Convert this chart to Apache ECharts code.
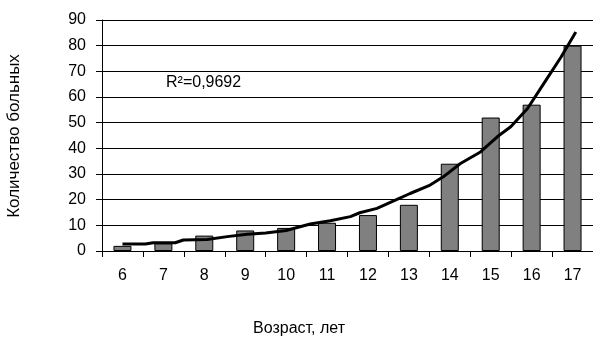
<!DOCTYPE html>
<html>
<head>
<meta charset="utf-8">
<script src="https://cdn.jsdelivr.net/npm/echarts@6/dist/echarts.min.js"></script>
<style>
html,body{margin:0;padding:0;background:#fff;}
#chart{width:593px;height:341px;}
</style>
</head>
<body>
<div id="chart"></div>
<script>
var categories = ['6','7','8','9','10','11','12','13','14','15','16','17'];
var patients = [2, 3, 6, 8, 9, 11, 14, 18, 34, 52, 57, 80];
var trendX = [6.0, 6.56, 6.75, 7.29, 7.49, 8.07, 8.56, 9.05, 9.5, 10.0, 10.59, 11.08, 11.57, 11.8, 12.22, 12.71, 13.03, 13.52, 13.84, 14.26, 14.75, 15.16, 15.49, 15.9, 16.3, 16.72, 17.08];
var trendY = [2.7, 2.7, 3.2, 3.2, 4.3, 4.5, 5.6, 6.5, 7.0, 8.0, 10.5, 11.8, 13.4, 14.9, 16.6, 20.1, 22.4, 25.7, 28.9, 34.1, 38.6, 44.5, 48.4, 55.5, 65.3, 75.6, 85.3];
var yTicks = [0, 90, 10];
var r2Label = 'R\u00B2=0,9692';
var xTitle = 'Возраст, лет';
var yTitle = 'Количество больных';

var FONT = "'Liberation Sans', Arial, sans-serif";
var trend = trendX.map(function (x, i) { return [x, trendY[i]]; });

var chart = echarts.init(document.getElementById('chart'));
chart.setOption({
  animation: false,
  backgroundColor: '#fff',
  grid: { left: 102, right: 0, top: 20, bottom: 90, containLabel: false },
  xAxis: [{
    type: 'category',
    data: categories,
    boundaryGap: true,
    axisLine: { show: true, lineStyle: { color: '#000', width: 1 } },
    axisTick: { show: true, length: 6, lineStyle: { color: '#000', width: 1 } },
    axisLabel: { color: '#000', fontSize: 16, fontFamily: FONT, margin: 17 },
    splitLine: { show: false }
  }, {
    type: 'value',
    min: 5.5, max: 17.5,
    show: false
  }],
  yAxis: {
    type: 'value',
    min: yTicks[0], max: yTicks[1], interval: yTicks[2],
    axisLine: { show: true, lineStyle: { color: '#000', width: 1 } },
    axisTick: { show: true, length: 6, lineStyle: { color: '#000', width: 1 } },
    axisLabel: { color: '#000', fontSize: 16, fontFamily: FONT, margin: 16 },
    splitLine: { show: true, lineStyle: { color: '#000', width: 1 } }
  },
  series: [{
    type: 'bar',
    data: patients,
    barWidth: 18,
    itemStyle: { color: '#808080', borderColor: '#000', borderWidth: 1 }
  }, {
    type: 'line',
    xAxisIndex: 1,
    data: trend,
    showSymbol: false,
    symbol: 'none',
    lineStyle: { color: '#000', width: 3 },
    z: 5
  }],
  graphic: [{
    type: 'text', left: 166, top: 75,
    style: { text: r2Label, fontSize: 16, fontFamily: FONT, fill: '#000' }
  }, {
    type: 'text', left: 253, top: 321,
    style: { text: xTitle, fontSize: 16, fontFamily: FONT, fill: '#000' }
  }, {
    type: 'text', x: 14, y: 136, rotation: Math.PI / 2,
    style: { text: yTitle, fontSize: 17, fontFamily: FONT, fill: '#000', textAlign: 'center', textVerticalAlign: 'middle' }
  }]
});
</script>
</body>
</html>
